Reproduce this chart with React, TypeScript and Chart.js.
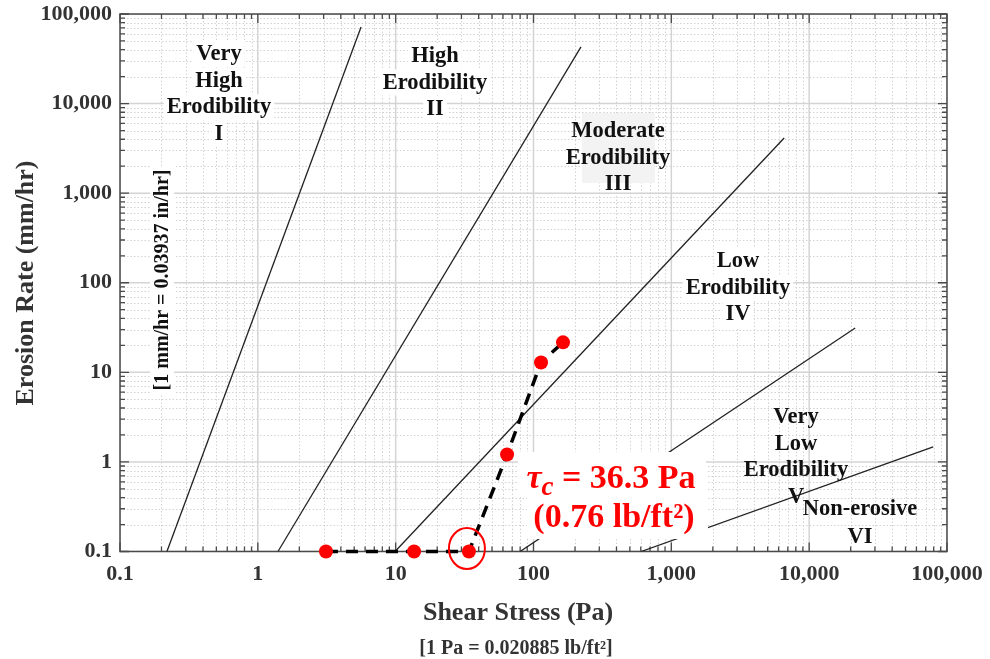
import React, { useEffect, useRef } from "react";
import { Chart, registerables } from "chart.js";

Chart.register(...registerables);

// ---- Data ----
const shearStress = [3.12, 13.6, 34.0, 64.3, 113.4, 163.7]; // Pa
const erosionRate = [0.1, 0.1, 0.1, 1.21, 12.9, 21.6]; // mm/hr
const criticalIndex = 2;
const criticalLabel = "36.3";
const criticalLabelImperial = "0.76";

const boundaryNames = ["I-II", "II-III", "III-IV", "IV-V", "V-VI"];
const boundaryStress = [
  [0.219, 5.61],
  [1.4, 221],
  [9.9, 6587],
  [79.9, 21580],
  [604, 79400],
];
const boundaryRate = [
  [0.1, 71600],
  [0.1, 42900],
  [0.1, 4130],
  [0.1, 31.3],
  [0.1, 1.47],
];

const xTickValues = [0.1, 1, 10, 100, 1000, 10000, 100000];
const xTickLabels = ["0.1", "1", "10", "100", "1,000", "10,000", "100,000"];
const yTickValues = [0.1, 1, 10, 100, 1000, 10000, 100000];
const yTickLabels = ["0.1", "1", "10", "100", "1,000", "10,000", "100,000"];

const regionText = [
  ["Very", "High", "Erodibility", "I"],
  ["High", "Erodibility", "II"],
  ["Moderate", "Erodibility", "III"],
  ["Low", "Erodibility", "IV"],
  ["Very", "Low", "Erodibility", "V"],
  ["Non-erosive", "VI"],
];

const FONT = '"Liberation Serif", "Times New Roman", serif';

const minorValues = (() => {
  const out: number[] = [];
  for (let e = -1; e <= 4; e++) {
    for (let m = 2; m <= 9; m++) out.push(m * Math.pow(10, e));
  }
  return out;
})();

const decorPlugin = {
  id: "decor",
  beforeDatasetsDraw(chart: any) {
    const { ctx, chartArea: a, scales } = chart;
    const x = scales.x;
    const y = scales.y;
    ctx.save();
    ctx.beginPath();
    ctx.rect(a.left, a.top, a.right - a.left, a.bottom - a.top);
    ctx.clip();
    // minor grid (dotted)
    ctx.strokeStyle = "#d2d2d2";
    ctx.lineWidth = 1;
    ctx.setLineDash([1.5, 2]);
    for (const v of minorValues) {
      const px = Math.round(x.getPixelForValue(v)) + 0.5;
      ctx.beginPath();
      ctx.moveTo(px, a.top);
      ctx.lineTo(px, a.bottom);
      ctx.stroke();
      const py = Math.round(y.getPixelForValue(v)) + 0.5;
      ctx.beginPath();
      ctx.moveTo(a.left, py);
      ctx.lineTo(a.right, py);
      ctx.stroke();
    }
    // major grid (solid)
    ctx.setLineDash([]);
    ctx.strokeStyle = "#d4d4d4";
    ctx.lineWidth = 1.5;
    for (const v of xTickValues) {
      const px = x.getPixelForValue(v);
      ctx.beginPath();
      ctx.moveTo(px, a.top);
      ctx.lineTo(px, a.bottom);
      ctx.stroke();
    }
    for (const v of yTickValues) {
      const py = y.getPixelForValue(v);
      ctx.beginPath();
      ctx.moveTo(a.left, py);
      ctx.lineTo(a.right, py);
      ctx.stroke();
    }
    ctx.restore();

    // box + inward ticks
    ctx.save();
    ctx.strokeStyle = "#4a4a4a";
    ctx.lineWidth = 1.5;
    ctx.strokeRect(a.left, a.top, a.right - a.left, a.bottom - a.top);
    const tick = (v: number, len: number) => {
      const px = x.getPixelForValue(v);
      if (px >= a.left - 0.5 && px <= a.right + 0.5) {
        ctx.beginPath();
        ctx.moveTo(px, a.bottom);
        ctx.lineTo(px, a.bottom - len);
        ctx.moveTo(px, a.top);
        ctx.lineTo(px, a.top + len);
        ctx.stroke();
      }
      const py = y.getPixelForValue(v);
      if (py >= a.top - 0.5 && py <= a.bottom + 0.5) {
        ctx.beginPath();
        ctx.moveTo(a.left, py);
        ctx.lineTo(a.left + len, py);
        ctx.moveTo(a.right, py);
        ctx.lineTo(a.right - len, py);
        ctx.stroke();
      }
    };
    ctx.lineWidth = 1.3;
    for (const v of xTickValues) tick(v, 9);
    for (const v of minorValues) tick(v, 5);
    ctx.restore();
  },
  afterDatasetsDraw(chart: any) {
    const { ctx } = chart;
    ctx.save();
    // light gray panel behind the "Moderate" label
    ctx.fillStyle = "#f3f3f3";
    ctx.fillRect(582, 113, 73, 70);

    const regionPos = [
      { cx: 219, y0: 60, dy: 26.7, bg: "#ffffff" },
      { cx: 435, y0: 62, dy: 26.5, bg: "#ffffff" },
      { cx: 618, y0: 137, dy: 26.5, bg: null },
      { cx: 738, y0: 267, dy: 26.5, bg: "#ffffff" },
      { cx: 796, y0: 423, dy: 26.7, bg: null },
      { cx: 860, y0: 515, dy: 28, bg: null },
    ];
    ctx.font = `bold 22.5px ${FONT}`;
    ctx.textAlign = "center";
    ctx.textBaseline = "alphabetic";
    regionText.forEach((lines, i) => {
      const p = regionPos[i];
      if (p.bg) {
        ctx.fillStyle = p.bg;
        lines.forEach((ln, j) => {
          const w = ctx.measureText(ln).width;
          ctx.fillRect(p.cx - w / 2 - 3, p.y0 + j * p.dy - 19, w + 6, 26);
        });
      }
    });
    ctx.fillStyle = "#111111";
    regionText.forEach((lines, i) => {
      const p = regionPos[i];
      lines.forEach((ln, j) => ctx.fillText(ln, p.cx, p.y0 + j * p.dy));
    });

    // critical shear stress annotation
    ctx.fillStyle = "#ffffff";
    ctx.fillRect(518, 452, 188, 45);
    ctx.fillRect(527, 497, 181, 42);
    ctx.fillStyle = "#ff0000";
    const part1 = "\u03C4";
    const part2 = "c";
    const part3 = ` = ${criticalLabel} Pa`;
    ctx.textAlign = "left";
    ctx.font = `italic bold 34px ${FONT}`;
    const w1 = ctx.measureText(part1).width;
    ctx.font = `italic bold 27px ${FONT}`;
    const w2 = ctx.measureText(part2).width;
    ctx.font = `bold 34px ${FONT}`;
    const w3 = ctx.measureText(part3).width;
    const sx = 611 - (w1 + w2 + w3) / 2;
    const base1 = 488;
    ctx.font = `italic bold 34px ${FONT}`;
    ctx.fillText(part1, sx, base1);
    ctx.font = `italic bold 27px ${FONT}`;
    ctx.fillText(part2, sx + w1, base1 + 7);
    ctx.font = `bold 34px ${FONT}`;
    ctx.fillText(part3, sx + w1 + w2, base1);
    ctx.textAlign = "center";
    ctx.fillText(`(${criticalLabelImperial} lb/ft\u00B2)`, 614, 527);

    // y unit conversion note (inside plot)
    ctx.save();
    ctx.fillStyle = "#ffffff";
    ctx.fillRect(150, 166, 24, 228);
    ctx.translate(168, 280);
    ctx.rotate(-Math.PI / 2);
    ctx.fillStyle = "#111111";
    ctx.font = `bold 20px ${FONT}`;
    ctx.textAlign = "center";
    ctx.fillText("[1 mm/hr = 0.03937 in/hr]", 0, 0);
    ctx.restore();
    ctx.restore();
  },
  afterDraw(chart: any) {
    const { ctx, scales } = chart;
    const x = scales.x;
    const y = scales.y;
    ctx.save();
    // circle around critical point
    const cx = x.getPixelForValue(shearStress[criticalIndex]) - 2;
    const cy = y.getPixelForValue(erosionRate[criticalIndex]) - 3;
    ctx.strokeStyle = "#ff0000";
    ctx.lineWidth = 2;
    ctx.beginPath();
    ctx.ellipse(cx, cy, 18, 20.5, 0, 0, Math.PI * 2);
    ctx.stroke();

    // axis titles
    ctx.fillStyle = "#333333";
    ctx.textAlign = "center";
    ctx.textBaseline = "alphabetic";
    ctx.font = `bold 26px ${FONT}`;
    ctx.fillText("Shear Stress (Pa)", 518, 620);
    ctx.font = `bold 20px ${FONT}`;
    ctx.fillText("[1 Pa = 0.020885 lb/ft\u00B2]", 516, 654);

    ctx.translate(33, 283);
    ctx.rotate(-Math.PI / 2);
    ctx.font = `bold 26px ${FONT}`;
    ctx.fillText("Erosion Rate (mm/hr)", 0, 0);
    ctx.restore();
  },
};

export default function App() {
  const canvasRef = useRef<HTMLCanvasElement | null>(null);

  useEffect(() => {
    if (!canvasRef.current) return;
    const boundarySets = boundaryNames.map((name, i) => ({
      label: name,
      data: boundaryStress[i].map((s, j) => ({ x: s, y: boundaryRate[i][j] })),
      showLine: true,
      borderColor: "#222222",
      borderWidth: 1.3,
      pointRadius: 0,
      fill: false,
      order: 2,
    }));
    const chart = new Chart(canvasRef.current, {
      type: "scatter",
      data: {
        datasets: [
          {
            label: "Measured",
            data: shearStress.map((s, i) => ({ x: s, y: erosionRate[i] })),
            showLine: true,
            borderColor: "#000000",
            borderWidth: 3.5,
            borderDash: [12, 8],
            pointRadius: 7,
            pointBackgroundColor: "#ff0000",
            pointBorderColor: "#ff0000",
            pointBorderWidth: 0,
            clip: false,
            order: 0,
          } as any,
          ...boundarySets,
        ],
      },
      options: {
        responsive: false,
        animation: false,
        layout: { padding: { top: 14, right: 43, bottom: 0, left: 0 } },
        plugins: { legend: { display: false }, tooltip: { enabled: false } },
        scales: {
          x: {
            type: "logarithmic",
            min: 0.1,
            max: 100000,
            grid: { display: false, drawTicks: false },
            border: { display: false },
            afterBuildTicks: (s: any) => {
              s.ticks = xTickValues.map((v) => ({ value: v }));
            },
            afterFit: (s: any) => {
              s.height = 107.5;
              s.paddingLeft = 0;
              s.paddingRight = 0;
            },
            ticks: {
              autoSkip: false,
              maxRotation: 0,
              minRotation: 0,
              padding: 10,
              color: "#333333",
              font: { family: FONT, size: 22, weight: "bold" },
              callback: (_v: any, i: number) => xTickLabels[i],
            },
          },
          y: {
            type: "logarithmic",
            min: 0.1,
            max: 100000,
            grid: { display: false, drawTicks: false },
            border: { display: false },
            afterBuildTicks: (s: any) => {
              s.ticks = yTickValues.map((v) => ({ value: v }));
            },
            afterFit: (s: any) => {
              s.width = 120;
              s.paddingTop = 0;
              s.paddingBottom = 0;
            },
            ticks: {
              autoSkip: false,
              padding: 8,
              color: "#333333",
              font: { family: FONT, size: 22, weight: "bold" },
              callback: (_v: any, i: number) => yTickLabels[i],
            },
          },
        },
      } as any,
      plugins: [decorPlugin as any],
    });
    return () => chart.destroy();
  }, []);

  return (
    <div style={{ position: "absolute", left: 0, top: 0, width: 990, height: 659, background: "#ffffff" }}>
      <canvas ref={canvasRef} width={990} height={659} />
    </div>
  );
}
